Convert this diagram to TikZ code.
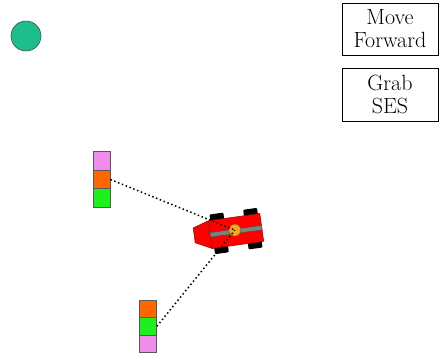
\documentclass[tikz,border=0pt]{standalone}
\definecolor{ballgreen}{RGB}{30,190,140}
\definecolor{blkpink}{RGB}{240,140,235}
\definecolor{blkorange}{RGB}{255,102,0}
\definecolor{blkgreen}{RGB}{30,240,30}
\definecolor{eyeorange}{RGB}{245,165,30}
\begin{document}
\begin{tikzpicture}[x=1pt,y=-1pt,
  cmdbox/.style={draw=black, line width=1pt, fill=white, minimum width=96pt,
    align=center, inner sep=0pt, font=\rmfamily\fontsize{22}{23}\selectfont},
  block/.style={draw=black!65, line width=0.8pt, minimum width=17pt,
    inner sep=0pt, fill=#1},
  wheel/.style={fill=black, rounded corners=1pt},
  sight/.style={black, line width=1.5pt, dash pattern=on 1.5pt off 2.6pt}]
\useasboundingbox (0,0) rectangle (441,360);

% target ball
\node[circle, draw=black!70, line width=0.6pt, fill=ballgreen,
  minimum size=30pt, inner sep=0pt] (ball) at (26,36) {};

% command boxes
\node[cmdbox, minimum height=52pt] (move) at (390,29) {Move\\Forward};
\node[cmdbox, minimum height=53pt] (grab) at (390,94.5) {Grab\\SES};

% upper landmark stack
\node[block=blkpink,   minimum height=18.5pt] (p1) at (101.5,161) {};
\node[block=blkorange, minimum height=18.5pt] (o1) at (101.5,179.5) {};
\node[block=blkgreen,  minimum height=18.5pt] (g1) at (101.5,198) {};

% lower landmark stack
\node[block=blkorange, minimum height=17.5pt] (o2) at (148,308.75) {};
\node[block=blkgreen,  minimum height=17.5pt] (g2) at (148,326.25) {};
\node[block=blkpink,   minimum height=17.5pt] (p2) at (148,343.75) {};

% robot
\begin{scope}[shift={(236,231)}, rotate=8]
  \fill[wheel] (-24,-20) rectangle (-10,-12);
  \fill[wheel] (10,-20) rectangle (24,-12);
  \fill[wheel] (-24,12) rectangle (-10,20);
  \fill[wheel] (10,12) rectangle (24,20);
  \filldraw[fill=red, draw=red!60!black, line width=0.5pt]
    (-26,-14) -- (-42,-9) -- (-42,6) -- (-26,14) -- cycle;
  \filldraw[fill=red, draw=red!60!black, line width=0.5pt]
    (-26,-14) rectangle (26,14);
  \filldraw[fill=black!50, draw=black!70, line width=0.5pt]
    (-26,-2) rectangle (26,2.5);
  \node[circle, fill=eyeorange, draw=orange!60!black, line width=0.5pt,
    minimum size=12pt, inner sep=0pt] (eye) at (-1,-1) {};
\end{scope}

% lines of sight to the landmarks
\draw[sight] (o1.east) -- (eye.center);
\draw[sight] (g2.east) -- (eye.center);
\end{tikzpicture}
\end{document}
